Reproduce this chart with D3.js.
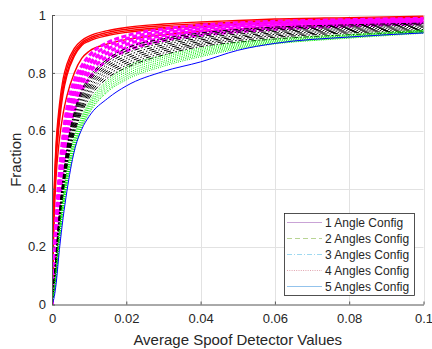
<!DOCTYPE html>
<html><head><meta charset="utf-8">
<script src="https://cdn.jsdelivr.net/npm/d3@7"></script>
<style>
html,body{margin:0;padding:0;background:#fff;}
svg{display:block;font-family:"Liberation Sans",Arial,Helvetica,sans-serif;}
</style></head>
<body>
<svg id="chart" width="432" height="349"></svg>
<script>
// ---- data ----
const xGrid = [0, 0.0005, 0.001, 0.002, 0.003, 0.004, 0.006, 0.008, 0.01, 0.015, 0.02, 0.03, 0.04, 0.05, 0.06, 0.08, 0.1];

const oneAngle = [
  [0, 0.36, 0.53, 0.69, 0.78, 0.83, 0.885, 0.912, 0.927, 0.946, 0.957, 0.969, 0.976, 0.981, 0.986, 0.991, 0.996],
  [0, 0.34, 0.51, 0.67, 0.76, 0.815, 0.875, 0.905, 0.92, 0.94, 0.951, 0.963, 0.97, 0.976, 0.981, 0.987, 0.992],
  [0, 0.33, 0.49, 0.65, 0.745, 0.80, 0.865, 0.9, 0.915, 0.934, 0.945, 0.957, 0.965, 0.971, 0.976, 0.983, 0.989],
  [0, 0.31, 0.47, 0.63, 0.73, 0.79, 0.858, 0.895, 0.91, 0.929, 0.94, 0.952, 0.96, 0.967, 0.972, 0.98, 0.986],
  [0, 0.27, 0.42, 0.57, 0.66, 0.72, 0.80, 0.85, 0.875, 0.9, 0.915, 0.932, 0.943, 0.952, 0.959, 0.969, 0.978]
];
const twoAngles = [
  [0, 0.15, 0.28, 0.46, 0.59, 0.68, 0.775, 0.825, 0.86, 0.905, 0.928, 0.952, 0.965, 0.973, 0.978, 0.984, 0.988],
  [0, 0.14, 0.26, 0.43, 0.56, 0.655, 0.755, 0.81, 0.845, 0.893, 0.918, 0.944, 0.958, 0.967, 0.973, 0.98, 0.985],
  [0, 0.13, 0.25, 0.41, 0.535, 0.63, 0.735, 0.795, 0.83, 0.882, 0.908, 0.937, 0.952, 0.962, 0.968, 0.976, 0.982],
  [0, 0.12, 0.23, 0.39, 0.51, 0.605, 0.715, 0.777, 0.815, 0.87, 0.898, 0.929, 0.945, 0.956, 0.963, 0.972, 0.978],
  [0, 0.11, 0.215, 0.37, 0.49, 0.585, 0.695, 0.76, 0.8, 0.858, 0.887, 0.921, 0.938, 0.949, 0.957, 0.967, 0.974],
  [0, 0.10, 0.2, 0.35, 0.47, 0.56, 0.67, 0.74, 0.78, 0.845, 0.876, 0.912, 0.93, 0.942, 0.951, 0.962, 0.97]
];
const threeAngles = [
  [0, 0.08, 0.16, 0.32, 0.44, 0.54, 0.665, 0.74, 0.785, 0.848, 0.885, 0.918, 0.938, 0.95, 0.958, 0.966, 0.972],
  [0, 0.077, 0.155, 0.313, 0.432, 0.53, 0.655, 0.73, 0.776, 0.84, 0.876, 0.911, 0.932, 0.945, 0.953, 0.962, 0.969],
  [0, 0.073, 0.148, 0.305, 0.424, 0.52, 0.645, 0.72, 0.767, 0.832, 0.867, 0.904, 0.926, 0.94, 0.948, 0.958, 0.966],
  [0, 0.07, 0.14, 0.297, 0.416, 0.51, 0.635, 0.71, 0.758, 0.824, 0.858, 0.897, 0.92, 0.934, 0.943, 0.954, 0.962],
  [0, 0.066, 0.133, 0.289, 0.408, 0.5, 0.625, 0.7, 0.749, 0.816, 0.85, 0.89, 0.914, 0.928, 0.938, 0.95, 0.958],
  [0, 0.062, 0.127, 0.282, 0.40, 0.492, 0.615, 0.69, 0.74, 0.808, 0.842, 0.883, 0.908, 0.923, 0.933, 0.946, 0.954],
  [0, 0.058, 0.121, 0.275, 0.392, 0.485, 0.607, 0.681, 0.731, 0.8, 0.834, 0.876, 0.902, 0.918, 0.928, 0.942, 0.95],
  [0, 0.054, 0.115, 0.268, 0.386, 0.478, 0.599, 0.672, 0.722, 0.792, 0.826, 0.869, 0.897, 0.912, 0.923, 0.938, 0.946],
  [0, 0.05, 0.11, 0.26, 0.38, 0.47, 0.59, 0.663, 0.712, 0.783, 0.818, 0.862, 0.891, 0.906, 0.917, 0.932, 0.942]
];
const fourAngles = [
  [0, 0.05, 0.11, 0.26, 0.37, 0.46, 0.58, 0.65, 0.70, 0.775, 0.82, 0.86, 0.886, 0.906, 0.918, 0.933, 0.948],
  [0, 0.047, 0.103, 0.252, 0.362, 0.452, 0.572, 0.643, 0.693, 0.768, 0.812, 0.854, 0.881, 0.902, 0.914, 0.93, 0.946],
  [0, 0.043, 0.096, 0.243, 0.354, 0.443, 0.563, 0.636, 0.686, 0.761, 0.804, 0.848, 0.876, 0.898, 0.911, 0.928, 0.944],
  [0, 0.04, 0.089, 0.235, 0.345, 0.435, 0.555, 0.629, 0.68, 0.754, 0.796, 0.841, 0.871, 0.894, 0.908, 0.926, 0.942],
  [0, 0.037, 0.082, 0.227, 0.337, 0.427, 0.547, 0.622, 0.673, 0.747, 0.789, 0.835, 0.866, 0.89, 0.905, 0.924, 0.94],
  [0, 0.033, 0.076, 0.218, 0.328, 0.418, 0.538, 0.616, 0.666, 0.74, 0.782, 0.829, 0.861, 0.886, 0.902, 0.922, 0.939],
  [0, 0.03, 0.07, 0.21, 0.32, 0.41, 0.53, 0.61, 0.66, 0.735, 0.776, 0.823, 0.856, 0.882, 0.9, 0.92, 0.937]
];
const fiveAngles = [
  [0, 0.02, 0.06, 0.19, 0.30, 0.39, 0.53, 0.605, 0.65, 0.712, 0.755, 0.805, 0.838, 0.878, 0.902, 0.924, 0.938]
];

const legendLabels = ["1 Angle Config", "2 Angles Config", "3 Angles Config", "4 Angles Config", "5 Angles Config"];
const xTicks = [0, 0.02, 0.04, 0.06, 0.08, 0.1];
const xTickLabels = ["0", "0.02", "0.04", "0.06", "0.08", "0.1"];
const yTicks = [0, 0.2, 0.4, 0.6, 0.8, 1];
const yTickLabels = ["0", "0.2", "0.4", "0.6", "0.8", "1"];
const xTitle = "Average Spoof Detector Values";
const yTitle = "Fraction";

// ---- styles ----
const groupStyles = [
  {color: "#ff0000", width: 1.4, dash: null},
  {color: "#ff00ff", width: 3, dash: "5,2.5"},
  {color: "#000000", width: 1, dash: "5,2,1.5,2"},
  {color: "#00ee00", width: 1, dash: "1,1.3"},
  {color: "#0000ff", width: 1, dash: null}
];
const legendStyles = [
  {color: "#c9a3d6", dash: null},
  {color: "#b8d494", dash: "5,3"},
  {color: "#9fd9f0", dash: "5,2,1,2"},
  {color: "#e0a3ae", dash: "1,1.3"},
  {color: "#93c3ec", dash: null}
];

const svg = d3.select("#chart");
const m = {left: 52, right: 423.5, top: 15, bottom: 304.5};
const x = d3.scaleLinear().domain([0, 0.1]).range([m.left, m.right]);
const y = d3.scaleLinear().domain([0, 1]).range([m.bottom, m.top]);
const textColor = "#262626";

// grid
const grid = svg.append("g");
grid.selectAll("line.gx").data(xTicks.slice(1)).enter().append("line")
  .attr("x1", d => Math.round(x(d)) + 0.5).attr("x2", d => Math.round(x(d)) + 0.5)
  .attr("y1", m.top).attr("y2", m.bottom)
  .attr("stroke", "#e2e2e2").attr("stroke-width", 1);
grid.selectAll("line.gy").data(yTicks.slice(1)).enter().append("line")
  .attr("y1", d => Math.round(y(d)) + 0.5).attr("y2", d => Math.round(y(d)) + 0.5)
  .attr("x1", m.left).attr("x2", m.right)
  .attr("stroke", "#e2e2e2").attr("stroke-width", 1);

// curves
svg.append("defs").append("clipPath").attr("id", "clip")
  .append("rect").attr("x", m.left).attr("y", m.top - 2)
  .attr("width", m.right - m.left + 1).attr("height", m.bottom - m.top + 2);
const line = d3.line().x((d, i) => x(xGrid[i])).y(d => y(d)).curve(d3.curveMonotoneX);
const groups = [oneAngle, twoAngles, threeAngles, fourAngles, fiveAngles];
const plot = svg.append("g").attr("clip-path", "url(#clip)");
groups.forEach((g, gi) => {
  const st = groupStyles[gi];
  plot.append("g").selectAll("path").data(g).enter().append("path")
    .attr("d", line)
    .attr("fill", "none")
    .attr("stroke", st.color)
    .attr("stroke-width", st.width)
    .attr("stroke-dasharray", st.dash)
    .attr("stroke-linejoin", "round");
});

// axes
const xAxis = d3.axisBottom(x).tickValues(xTicks)
  .tickFormat((d, i) => xTickLabels[i]).tickSizeInner(-3).tickSizeOuter(0).tickPadding(9);
const yAxis = d3.axisLeft(y).tickValues(yTicks)
  .tickFormat((d, i) => yTickLabels[i]).tickSizeInner(-3).tickSizeOuter(0).tickPadding(6);
const gx = svg.append("g").attr("transform", `translate(0,${m.bottom})`).call(xAxis);
const gy = svg.append("g").attr("transform", `translate(${m.left},0)`).call(yAxis);
[gx, gy].forEach(g => {
  g.select(".domain").attr("stroke", "#555").attr("stroke-width", 1);
  g.selectAll(".tick line").attr("stroke", "#555");
  g.selectAll(".tick text").attr("fill", textColor)
    .style("font-size", "13px").style("font-family", "'Liberation Sans',Arial,sans-serif");
});

// titles
svg.append("text").attr("x", (m.left + m.right) / 2).attr("y", 345)
  .attr("text-anchor", "middle").attr("fill", textColor)
  .style("font-size", "15px").text(xTitle);
svg.append("text").attr("transform", `translate(21,${(m.top + m.bottom) / 2}) rotate(-90)`)
  .attr("text-anchor", "middle").attr("fill", textColor)
  .style("font-size", "15px").text(yTitle);

// legend
const lg = svg.append("g");
const lx = 284.5, ly = 213.5, lw = 130, lh = 82;
lg.append("rect").attr("x", lx).attr("y", ly).attr("width", lw).attr("height", lh)
  .attr("fill", "#fff").attr("stroke", "#262626").attr("stroke-width", 0.8);
legendLabels.forEach((lab, i) => {
  const cy = 222.5 + i * 16;
  const st = legendStyles[i];
  lg.append("line").attr("x1", 287).attr("x2", 322).attr("y1", cy).attr("y2", cy)
    .attr("stroke", st.color).attr("stroke-width", 1).attr("stroke-dasharray", st.dash);
  lg.append("text").attr("x", 325).attr("y", cy).attr("dy", "0.36em")
    .attr("fill", textColor).style("font-size", "12px").text(lab);
});
</script>
</body></html>
